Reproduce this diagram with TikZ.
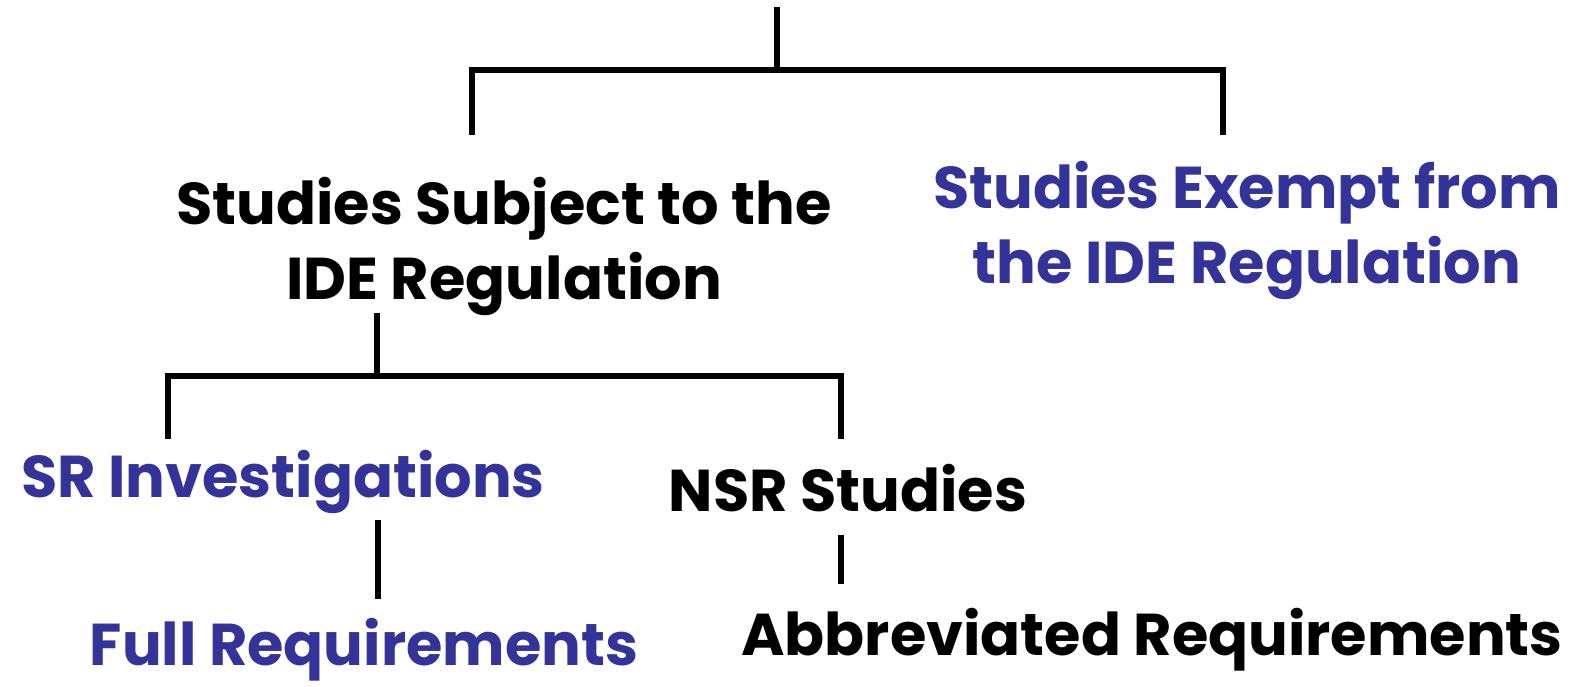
\documentclass[tikz,border=0pt]{standalone}
\usepackage{fontspec}
\setmainfont{Poppins}
\definecolor{refblue}{RGB}{51,51,153}
\begin{document}
\begin{tikzpicture}[x=1pt,y=-1pt,
  conn/.style={line width=5.5pt},
  lbl/.style={font=\fontsize{59}{75}\selectfont\bfseries, align=center, inner sep=0pt, anchor=base},
  blue/.style={lbl, text=refblue},
  blk/.style={lbl, text=black}]
\useasboundingbox[fill=white] (0,0) rectangle (1592,687);
\coordinate (top) at (777,7);
\node[blk] (subj) at (504,299) {Studies Subject to the\\IDE Regulation};
\node[blue] (exempt) at (1247,283) {Studies Exempt from\\the IDE Regulation};
\node[blue] (sr) at (283,497) {SR Investigations};
\node[blk] (nsr) at (848,511) {NSR Studies};
\node[blue] (full) at (364,665) {Full Requirements};
\node[blk] (abbr) at (1152,655) {Abbreviated Requirements};
\coordinate (subjbot) at (377,313);
\coordinate (srbot) at (378,520);
\coordinate (nsrbot) at (841,535);
\draw[conn] (top) -- (777,70);
\draw[conn] (472,135) -- (472,70) -- (1223,70) -- (1223,135);
\draw[conn] (subjbot) -- (377,376);
\draw[conn] (168,439) -- (168,376) -- (841,376) -- (841,439);
\draw[conn] (srbot) -- (378,599);
\draw[conn] (nsrbot) -- (841,584);
\end{tikzpicture}
\end{document}
